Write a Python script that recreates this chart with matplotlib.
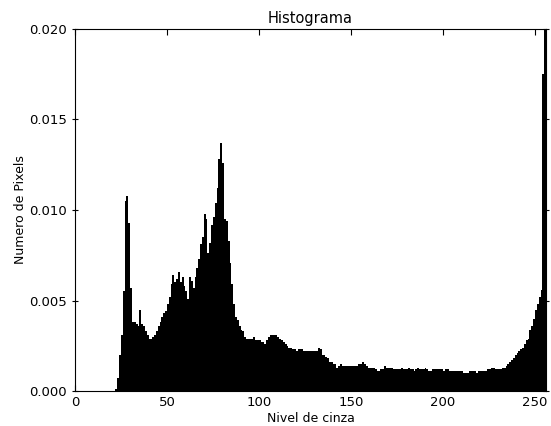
import matplotlib
matplotlib.use("Agg")
import matplotlib.pyplot as plt
import numpy as np

# normalised grey-level histogram (one value per level 0..255)
freq = [
    0.0, 0.0, 0.0, 0.0, 0.0, 0.0, 0.0, 0.0, 0.0, 0.0,
    0.0, 0.0, 0.0, 0.0, 0.0, 0.0, 0.0, 0.0, 0.0, 0.0,
    0.0, 0.0, 0.0001, 0.0007, 0.0020, 0.0031, 0.0055, 0.0105, 0.0108, 0.0093,
    0.0057, 0.0038, 0.0038, 0.0037, 0.0036, 0.0045, 0.0037, 0.0036, 0.0033, 0.0031,
    0.0029, 0.0029, 0.0030, 0.0031, 0.0033, 0.0036, 0.0038, 0.0041, 0.0043, 0.0044,
    0.0048, 0.0052, 0.0059, 0.0064, 0.0060, 0.0062, 0.0066, 0.0060, 0.0063, 0.0058,
    0.0055, 0.0051, 0.0063, 0.0061, 0.0057, 0.0063, 0.0068, 0.0073, 0.0081, 0.0085,
    0.0098, 0.0095, 0.0076, 0.0082, 0.0092, 0.0096, 0.0104, 0.0112, 0.0128, 0.0137,
    0.0126, 0.0095, 0.0094, 0.0083, 0.0071, 0.0059, 0.0048, 0.0041, 0.0039, 0.0036,
    0.0034, 0.0033, 0.0030, 0.0029, 0.0029, 0.0029, 0.0029, 0.0030, 0.0028, 0.0028,
    0.0028, 0.0027, 0.0027, 0.0026, 0.0028, 0.0030, 0.0031, 0.0031, 0.0031, 0.0031,
    0.0030, 0.0029, 0.0028, 0.0027, 0.0026, 0.0025, 0.0024, 0.0024, 0.0023, 0.0023,
    0.0022, 0.0023, 0.0023, 0.0023, 0.0022, 0.0022, 0.0022, 0.0022, 0.0022, 0.0022,
    0.0022, 0.0022, 0.0024, 0.0023, 0.0020, 0.0020, 0.0019, 0.0018, 0.0016, 0.0016,
    0.0015, 0.0015, 0.0013, 0.0014, 0.0015, 0.0014, 0.0014, 0.0014, 0.0014, 0.0014,
    0.0014, 0.0014, 0.0014, 0.0014, 0.0015, 0.0015, 0.0016, 0.0015, 0.0014, 0.0013,
    0.0013, 0.0013, 0.0013, 0.0012, 0.0011, 0.0011, 0.0012, 0.0012, 0.0014, 0.0013,
    0.0013, 0.0013, 0.0013, 0.0012, 0.0012, 0.0012, 0.0012, 0.0013, 0.0012, 0.0012,
    0.0012, 0.0013, 0.0012, 0.0012, 0.0011, 0.0012, 0.0013, 0.0012, 0.0012, 0.0012,
    0.0013, 0.0012, 0.0011, 0.0011, 0.0012, 0.0012, 0.0012, 0.0012, 0.0012, 0.0012,
    0.0011, 0.0012, 0.0012, 0.0011, 0.0011, 0.0011, 0.0011, 0.0011, 0.0011, 0.0011,
    0.0011, 0.0010, 0.0010, 0.0010, 0.0011, 0.0011, 0.0011, 0.0011, 0.0010, 0.0011,
    0.0011, 0.0011, 0.0011, 0.0011, 0.0012, 0.0012, 0.0013, 0.0013, 0.0012, 0.0012,
    0.0012, 0.0012, 0.0013, 0.0013, 0.0014, 0.0015, 0.0016, 0.0017, 0.0018, 0.0020,
    0.0021, 0.0022, 0.0023, 0.0024, 0.0026, 0.0028, 0.0029, 0.0034, 0.0036, 0.0040,
    0.0045, 0.0048, 0.0052, 0.0056, 0.0175, 0.0230,
]
niveis = np.arange(len(freq))
xticks = [0, 50, 100, 150, 200, 250]
yticks = [0.000, 0.005, 0.010, 0.015, 0.020]

fig = plt.figure(figsize=(5.51, 4.26), dpi=100)
ax = fig.add_axes([0.136, 0.082, 0.855, 0.850])

ax.bar(niveis, freq, width=1.0, align="edge", color="black", linewidth=0)

ax.set_xlim(0, 256)
ax.set_ylim(0, 0.020)
ax.set_xticks(xticks)
ax.set_yticks(yticks)
ax.set_yticklabels(["%.3f" % t for t in yticks])
ax.tick_params(axis="x", direction="in", top=True, length=4, labelsize=9.5)
ax.tick_params(axis="y", direction="inout", right=True, length=5, labelsize=9.5)

ax.set_title("Histograma", fontsize=10.5, pad=4)
ax.set_xlabel("Nivel de cinza", fontsize=9, labelpad=2)
ax.set_ylabel("Numero de Pixels", fontsize=9, labelpad=1)

plt.savefig("out.png", dpi=100)
